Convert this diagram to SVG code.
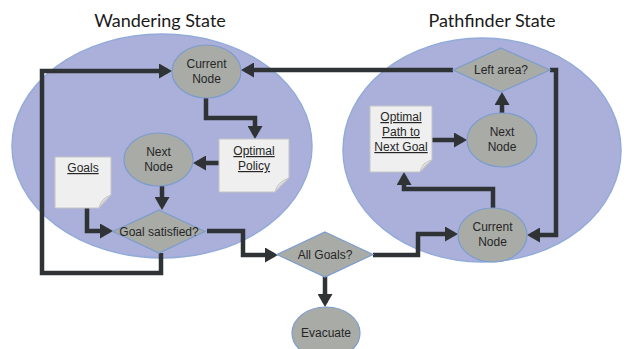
<svg xmlns="http://www.w3.org/2000/svg" width="632" height="349" viewBox="0 0 632 349">
<style>
.state{fill:#abb0da;stroke:#93abd9;stroke-width:1.5}
.node{fill:#a9aba7;stroke:#7c9ccd;stroke-width:1.2}
.doc{fill:#efefef;stroke:#c4c4c4;stroke-width:1}
.fold{fill:#e2e2e2;stroke:#c4c4c4;stroke-width:1}
.t{font-family:"Liberation Sans",Arial,sans-serif;font-size:12px;fill:#262626;text-anchor:middle}
.u{text-decoration:underline}
.title{font-family:Lato,"Open Sans",sans-serif;font-size:18px;fill:#1a1a1a;text-anchor:middle}
.c{fill:none;stroke:#2f3335;stroke-width:4.5;stroke-linejoin:miter}
</style>
<defs>
<marker id="ah" markerUnits="userSpaceOnUse" markerWidth="13" markerHeight="15" refX="9" refY="7.5" orient="auto">
<path d="M0,0 L13,7.5 L0,15 z" fill="#2f3335"/>
</marker>
</defs>
<rect width="632" height="349" fill="#ffffff"/>
<text class="title" x="160" y="27">Wandering State</text>
<text class="title" x="492" y="27">Pathfinder State</text>
<g id="wandering-state"><ellipse class="state" cx="162" cy="146" rx="150" ry="112"/></g>
<g id="pathfinder-state"><ellipse class="state" cx="482" cy="150" rx="139" ry="112"/></g>

<g id="connectors">
<path class="c" d="M161,253 V273 H42 V71 H168" marker-end="url(#ah)"/>
<path class="c" d="M453,70 H245" marker-end="url(#ah)"/>
<path class="c" d="M206,98 V118 H255 V135" marker-end="url(#ah)"/>
<path class="c" d="M219,163 H197" marker-end="url(#ah)"/>
<path class="c" d="M162,186 V206" marker-end="url(#ah)"/>
<path class="c" d="M87,207 V231 H109" marker-end="url(#ah)"/>
<path class="c" d="M207,231 H243 V255 H274" marker-end="url(#ah)"/>
<path class="c" d="M325,276 V303" marker-end="url(#ah)"/>
<path class="c" d="M373,255 H418 V234 H454" marker-end="url(#ah)"/>
<path class="c" d="M493,208 V189 H404 V176" marker-end="url(#ah)"/>
<path class="c" d="M550,70 H556 V235 H531" marker-end="url(#ah)"/>
<path class="c" d="M502,113 V96" marker-end="url(#ah)"/>
<path class="c" d="M432,140 H463" marker-end="url(#ah)"/>
</g>

<g id="current-node-w"><ellipse class="node" cx="206.5" cy="71.5" rx="34.5" ry="26.5"/><text class="t" x="206.5" y="68">Current</text><text class="t" x="206.5" y="83">Node</text></g>
<g id="optimal-policy"><path class="doc" d="M219,139 H289 V178 L275,192 H219 Z"/><path class="fold" d="M275,192 Q277,182 289,178 Q281,184 275,192 Z"/><text class="t u" x="254" y="155">Optimal</text><text class="t u" x="254" y="170">Policy</text></g>
<g id="next-node-w"><ellipse class="node" cx="158.5" cy="159.5" rx="34.5" ry="26.5"/><text class="t" x="158.5" y="156">Next</text><text class="t" x="158.5" y="171">Node</text></g>
<g id="goals"><path class="doc" d="M55,157 H111 V195 L99,208 H55 Z"/><path class="fold" d="M99,208 Q101,198 111,195 Q104,200 99,208 Z"/><text class="t u" x="83" y="172">Goals</text></g>
<g id="goal-satisfied"><path class="node" d="M159,210 L205,231.5 L159,253 L113,231.5 Z"/><text class="t" x="159" y="235.5">Goal satisfied?</text></g>
<g id="all-goals"><path class="node" d="M325,232 L373,254.5 L325,277 L277,254.5 Z"/><text class="t" x="325" y="259">All Goals?</text></g>
<g id="evacuate"><ellipse class="node" cx="326" cy="333" rx="34" ry="26"/><text class="t" x="326" y="337">Evacuate</text></g>
<g id="left-area"><path class="node" d="M501,48 L550,70 L501,92 L453,70 Z"/><text class="t" x="501" y="74">Left area?</text></g>
<g id="next-node-p"><ellipse class="node" cx="502" cy="140" rx="35" ry="27"/><text class="t" x="502" y="136">Next</text><text class="t" x="502" y="151">Node</text></g>
<g id="optimal-path"><path class="doc" d="M370,106 H432 V160 L420,172 H370 Z"/><path class="fold" d="M420,172 Q422,162 432,160 Q425,165 420,172 Z"/><text class="t u" x="401" y="121">Optimal</text><text class="t u" x="401" y="136">Path to</text><text class="t u" x="401" y="151">Next Goal</text></g>
<g id="current-node-p"><ellipse class="node" cx="492.5" cy="235" rx="34.5" ry="27"/><text class="t" x="492.5" y="231">Current</text><text class="t" x="492.5" y="246">Node</text></g>
</svg>
